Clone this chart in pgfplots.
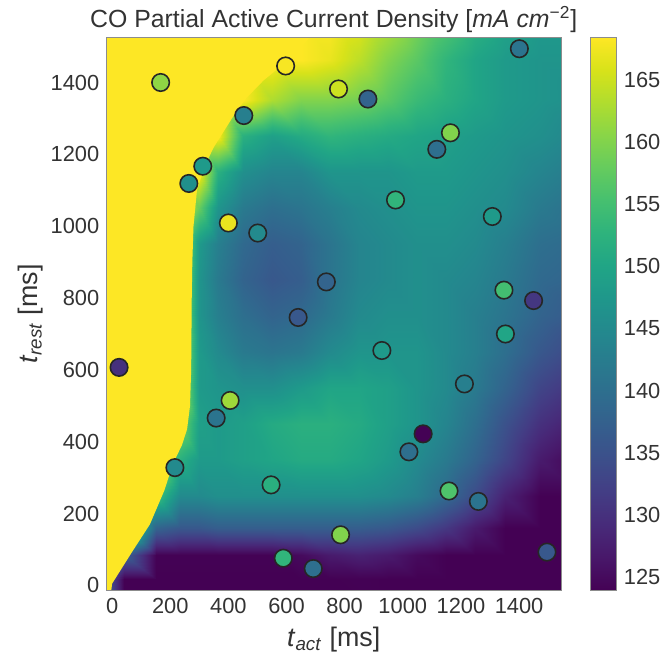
\documentclass[border=0pt]{standalone}
\usepackage{fontspec}
\setmainfont{Liberation Sans}
\usepackage{pgfplots}
\pgfplotsset{compat=1.18}
\definecolor{vyellow}{rgb}{0.993248,0.906157,0.143936}

\begin{document}
\begin{tikzpicture}
\begin{axis}[
    name=main,
    scale only axis,
    width=229pt, height=278.5pt,
    xmin=-20, xmax=1545,
    ymin=-15, ymax=1525,
    xtick={0,200,...,1400},
    ytick={0,200,...,1400},
    /pgf/number format/1000 sep={},
    /pgf/number format/assume math mode=true,
    tick label style={font=\fontsize{11}{13}\selectfont, text=black!80},
    label style={font=\fontsize{13.5}{16}\selectfont, text=black!80},
    major tick length=0pt,
    axis line style={black!45, line width=0.5pt},
    axis on top,
    colormap/viridis,
    point meta min=123.9, point meta max=168.4,
    title={CO Partial Active Current Density [\textit{mA cm}\textsuperscript{−2}]},
    title style={font=\fontsize{12.5}{14}\selectfont, text=black!80, yshift=-7pt},
    xlabel={\textit{t}\textsubscript{\textit{act}} [ms]},
    ylabel={\textit{t}\textsubscript{\textit{rest}} [ms]},
    ylabel style={yshift=-3pt},
    colorbar,
    colorbar style={
        at={(parent axis.north east)}, anchor=north west, xshift=6pt,
        scale only axis, width=13.5pt, height=278.5pt,
        ytick={125,130,...,165},
        yticklabel style={font=\fontsize{11}{13}\selectfont, text=black!80},
        /pgf/number format/assume math mode=true,
        major tick length=0pt,
        axis line style={black!45, line width=0.5pt},
    },
]

% interpolated surface, rows of t_rest, columns of t_act
\addplot[matrix plot*, shader=interp, mesh/cols=17, point meta=explicit, forget plot] coordinates {
(-20,-15)[140] (100,-15)[122] (200,-15)[122] (270,-15)[122] (330,-15)[122] (400,-15)[122] (500,-15)[122] (600,-15)[122] (700,-15)[122] (800,-15)[122] (900,-15)[122] (1000,-15)[122] (1100,-15)[122] (1200,-15)[122] (1300,-15)[122] (1400,-15)[122] (1545,-15)[122]
(-20,50)[150] (100,50)[122] (200,50)[122] (270,50)[122] (330,50)[122] (400,50)[122] (500,50)[122] (600,50)[122] (700,50)[122] (800,50)[123] (900,50)[124] (1000,50)[123] (1100,50)[122] (1200,50)[122] (1300,50)[122] (1400,50)[122] (1545,50)[122]
(-20,120)[160] (100,120)[138] (200,120)[124] (270,120)[124] (330,120)[124] (400,120)[124] (500,120)[124] (600,120)[124] (700,120)[125] (800,120)[127] (900,120)[128] (1000,120)[127] (1100,120)[125] (1200,120)[123] (1300,120)[122] (1400,120)[122] (1545,120)[122]
(-20,200)[165] (100,200)[165] (200,200)[138] (270,200)[136] (330,200)[136] (400,200)[137] (500,200)[137] (600,200)[137] (700,200)[137] (800,200)[137] (900,200)[137] (1000,200)[136] (1100,200)[134] (1200,200)[131] (1300,200)[127] (1400,200)[123] (1545,200)[122]
(-20,300)[170] (100,300)[170] (200,300)[155] (270,300)[145] (330,300)[145] (400,300)[146] (500,300)[146] (600,300)[146] (700,300)[146] (800,300)[146] (900,300)[146] (1000,300)[145] (1100,300)[143] (1200,300)[139] (1300,300)[134] (1400,300)[128] (1545,300)[123]
(-20,400)[175] (100,400)[175] (200,400)[165] (270,400)[152] (330,400)[148] (400,400)[148] (500,400)[149] (600,400)[150] (700,400)[151] (800,400)[151] (900,400)[150] (1000,400)[148] (1100,400)[145] (1200,400)[142] (1300,400)[138] (1400,400)[133] (1545,400)[127]
(-20,500)[175] (100,500)[175] (200,500)[170] (270,500)[160] (330,500)[149] (400,500)[148] (500,500)[149] (600,500)[151] (700,500)[152] (800,500)[152] (900,500)[151] (1000,500)[149] (1100,500)[147] (1200,500)[144] (1300,500)[140] (1400,500)[135] (1545,500)[130]
(-20,600)[175] (100,600)[175] (200,600)[175] (270,600)[165] (330,600)[148] (400,600)[147] (500,600)[146] (600,600)[146] (700,600)[148] (800,600)[150] (900,600)[150] (1000,600)[149] (1100,600)[147] (1200,600)[145] (1300,600)[142] (1400,600)[138] (1545,600)[133]
(-20,700)[175] (100,700)[175] (200,700)[175] (270,700)[165] (330,700)[148] (400,700)[145] (500,700)[142] (600,700)[141] (700,700)[142] (800,700)[145] (900,700)[147] (1000,700)[147] (1100,700)[147] (1200,700)[145] (1300,700)[143] (1400,700)[140] (1545,700)[136]
(-20,800)[175] (100,800)[175] (200,800)[175] (270,800)[165] (330,800)[147] (400,800)[143] (500,800)[140] (600,800)[138] (700,800)[139] (800,800)[142] (900,800)[145] (1000,800)[146] (1100,800)[146] (1200,800)[145] (1300,800)[143] (1400,800)[141] (1545,800)[138]
(-20,900)[175] (100,900)[175] (200,900)[175] (270,900)[165] (330,900)[147] (400,900)[142] (500,900)[138] (600,900)[136] (700,900)[137] (800,900)[141] (900,900)[144] (1000,900)[145] (1100,900)[146] (1200,900)[145] (1300,900)[144] (1400,900)[142] (1545,900)[139]
(-20,1000)[175] (100,1000)[175] (200,1000)[175] (270,1000)[165] (330,1000)[148] (400,1000)[143] (500,1000)[139] (600,1000)[137] (700,1000)[138] (800,1000)[141] (900,1000)[144] (1000,1000)[145] (1100,1000)[146] (1200,1000)[146] (1300,1000)[145] (1400,1000)[143] (1545,1000)[140]
(-20,1100)[175] (100,1100)[175] (200,1100)[175] (270,1100)[170] (330,1100)[158] (400,1100)[147] (500,1100)[142] (600,1100)[140] (700,1100)[141] (800,1100)[143] (900,1100)[145] (1000,1100)[146] (1100,1100)[147] (1200,1100)[147] (1300,1100)[146] (1400,1100)[145] (1545,1100)[142]
(-20,1200)[175] (100,1200)[175] (200,1200)[175] (270,1200)[175] (330,1200)[170] (400,1200)[152] (500,1200)[146] (600,1200)[144] (700,1200)[144] (800,1200)[147] (900,1200)[147] (1000,1200)[147] (1100,1200)[148] (1200,1200)[148] (1300,1200)[147] (1400,1200)[146] (1545,1200)[144]
(-20,1300)[175] (100,1300)[175] (200,1300)[175] (270,1300)[175] (330,1300)[175] (400,1300)[170] (500,1300)[152] (600,1300)[149] (700,1300)[151] (800,1300)[153] (900,1300)[152] (1000,1300)[151] (1100,1300)[150] (1200,1300)[149] (1300,1300)[148] (1400,1300)[147] (1545,1300)[146]
(-20,1400)[175] (100,1400)[175] (200,1400)[175] (270,1400)[175] (330,1400)[175] (400,1400)[175] (500,1400)[172] (600,1400)[163] (700,1400)[160] (800,1400)[160] (900,1400)[159] (1000,1400)[157] (1100,1400)[154] (1200,1400)[152] (1300,1400)[150] (1400,1400)[148] (1545,1400)[147]
(-20,1525)[175] (100,1525)[175] (200,1525)[175] (270,1525)[175] (330,1525)[175] (400,1525)[175] (500,1525)[175] (600,1525)[175] (700,1525)[170] (800,1525)[167] (900,1525)[164] (1000,1525)[160] (1100,1525)[157] (1200,1525)[153] (1300,1525)[150] (1400,1525)[148] (1545,1525)[147]
};

% region above the colour range (clipped to yellow)
\addplot[fill=vyellow, draw=none, forget plot] coordinates {
(-20,-15) (-3,-15) (0,5) (70,95) (130,170) (180,265) (210,340) (240,390) (258,435)
(268,500) (272,600) (273,700) (274,800) (276,900) (280,1000) (292,1100) (320,1170)
(350,1220) (385,1265) (420,1310) (460,1355) (520,1405) (580,1445) (630,1480) (680,1525)
(-20,1525)
};

% measured points
\addplot[scatter, only marks, mark=*, mark size=4.4pt, point meta=explicit,
    scatter/use mapped color={draw=black!85, fill=mapped color},
    mark options={line width=0.8pt}] coordinates {
(167,1400)[161] (597,1446)[168] (779,1382)[165] (880,1354)[138] (1401,1494)[141]
(1164,1260)[160] (1117,1214)[140] (975,1073)[153] (1308,1027)[148] (453,1308)[143]
(312,1167)[148] (264,1119)[146] (400,1009)[167] (501,981)[145] (737,845)[138]
(640,746)[136] (928,654)[148] (24,607)[130] (406,515)[162] (358,466)[141]
(216,328)[145] (547,280)[152] (589,76)[153] (692,47)[140] (786,141)[160]
(1348,822)[155] (1450,793)[131] (1353,700)[150] (1212,561)[143] (1070,422)[124]
(1021,372)[140] (1159,263)[156] (1260,234)[141] (1496,93)[136]
};

\end{axis}
\path (main.south west) +(-53.5pt,-31.5pt) (main.north east) +(51pt,17.5pt);
\end{tikzpicture}
\end{document}
